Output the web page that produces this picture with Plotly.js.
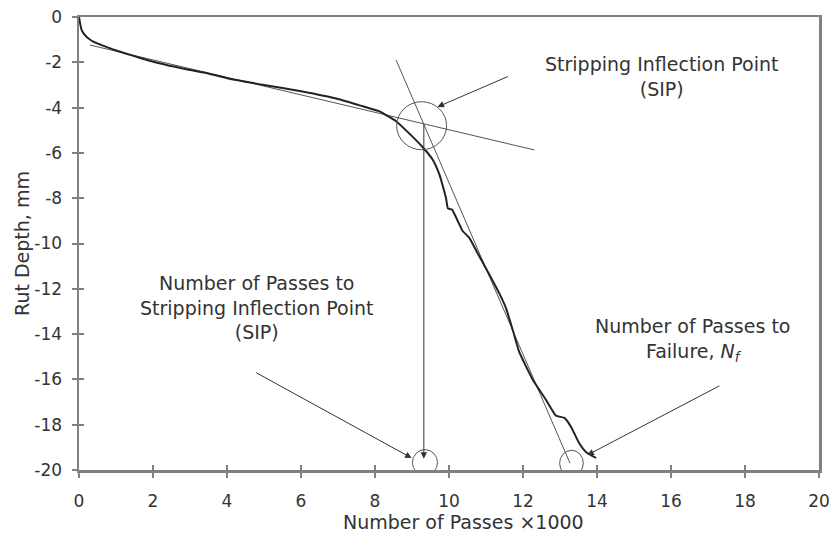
<!DOCTYPE html>
<html>
<head>
<meta charset="utf-8">
<script src="https://cdn.plot.ly/plotly-3.0.1.min.js"></script>
<style>html,body{margin:0;padding:0;background:#fff;}#chart{width:835px;height:539px;}</style>
</head>
<body>
<div id="chart"></div>
<script>
// Main rut depth curve (Number of passes x1000, rut depth mm)
var passes = [0, 0.03, 0.07, 0.15, 0.25, 0.4, 0.61, 0.9, 1.24, 1.7, 2.14, 2.8, 3.49, 4.0, 5.0, 6.0, 7.0, 7.58, 8.12, 8.57, 8.93, 9.29, 9.56, 9.74, 9.83, 9.92, 9.97, 10.08, 10.37, 10.55, 10.78, 11.0, 11.36, 11.54, 11.72, 11.9, 12.26, 12.62, 12.89, 13.12, 13.3, 13.52, 13.7, 13.98];
var rut    = [0, -0.28, -0.57, -0.78, -0.94, -1.1, -1.24, -1.42, -1.6, -1.83, -2.03, -2.27, -2.49, -2.7, -3.0, -3.28, -3.62, -3.9, -4.17, -4.6, -5.15, -5.75, -6.3, -6.95, -7.45, -8.0, -8.45, -8.5, -9.45, -9.75, -10.45, -11.1, -12.2, -12.85, -13.8, -14.8, -16.0, -16.9, -17.6, -17.7, -18.1, -18.82, -19.2, -19.47];

// Tangent lines
var tangent1X = [0.3, 12.31];
var tangent1Y = [-1.24, -5.87];
var tangent2X = [8.57, 13.27];
var tangent2Y = [-1.9, -19.7];

// Circles: center x, center y, radius x, radius y
var circleCX = [9.26, 9.35, 13.31];
var circleCY = [-4.80, -19.67, -19.70];
var circleRX = [0.675, 0.34, 0.32];
var circleRY = [1.06, 0.57, 0.57];

// Arrows: head (x,y) and tail (ax,ay)
var arrowX  = [9.69, 8.99, 13.74, 9.32];
var arrowY  = [-3.97, -19.47, -19.34, -19.5];
var arrowAX = [11.63, 4.75, 17.35, 9.32];
var arrowAY = [-2.6, -15.67, -16.25, -4.68];

// Text labels
var labelText = ["Stripping Inflection Point<br>(SIP)", "Number of Passes to<br>Stripping Inflection Point<br>(SIP)", "Number of Passes to<br>Failure, <i>N</i><sub><i>f</i></sub>"];
var labelX = [15.76, 4.80, 16.57];
var labelY = [-2.63, -12.83, -14.26];

var xTitle = 'Number of Passes ×1000';
var yTitle = 'Rut Depth, mm';

var xTicks = [0, 2, 4, 6, 8, 10, 12, 14, 16, 18, 20];
var xTickText = ['0', '2', '4', '6', '8', '10', '12', '14', '16', '18', '20'];
var yTicks = [0, -2, -4, -6, -8, -10, -12, -14, -16, -18, -20];
var yTickText = ['0', '-2', '-4', '-6', '-8', '-10', '-12', '-14', '-16', '-18', '-20'];

var textColor = '#333';
var axisColor = '#808080';
var fontFam = 'DejaVu Sans, Arial, sans-serif';

var traces = [
  {x: tangent1X, y: tangent1Y, mode: 'lines', line: {color: '#555', width: 1}, hoverinfo: 'skip'},
  {x: tangent2X, y: tangent2Y, mode: 'lines', line: {color: '#555', width: 1}, hoverinfo: 'skip'},
  {x: passes, y: rut, mode: 'lines', line: {color: '#222', width: 2, shape: 'spline', smoothing: 0.4}, hoverinfo: 'skip'},
  {x: [null], y: [null], xaxis: 'x2', yaxis: 'y2', mode: 'lines', hoverinfo: 'skip'}
];

var shapes = [];
for (var i = 0; i < circleCX.length; i++) {
  shapes.push({type: 'circle', xref: 'x', yref: 'y',
    x0: circleCX[i] - circleRX[i], x1: circleCX[i] + circleRX[i],
    y0: circleCY[i] - circleRY[i], y1: circleCY[i] + circleRY[i],
    line: {color: '#555', width: 1}});
}

var annotations = [];
for (var j = 0; j < arrowX.length; j++) {
  annotations.push({x: arrowX[j], y: arrowY[j], ax: arrowAX[j], ay: arrowAY[j],
    xref: 'x', yref: 'y', axref: 'x', ayref: 'y', text: '', showarrow: true,
    arrowhead: 2, arrowsize: 1.3, arrowwidth: 1, arrowcolor: '#333'});
}
for (var k = 0; k < labelText.length; k++) {
  annotations.push({x: labelX[k], y: labelY[k], xref: 'x', yref: 'y', text: labelText[k],
    showarrow: false, align: 'center', font: {family: fontFam, size: 19, color: textColor}});
}
// x-axis title placed slightly right of centre, as in the reference
annotations.push({x: 0.52, y: -0.115, xref: 'paper', yref: 'paper', text: xTitle, showarrow: false,
  xanchor: 'center', yanchor: 'middle', font: {family: fontFam, size: 19, color: textColor}});

var layout = {
  width: 835, height: 539,
  margin: {l: 79, r: 16, t: 17, b: 69},
  paper_bgcolor: '#fff', plot_bgcolor: '#fff',
  showlegend: false,
  font: {family: fontFam, color: textColor},
  xaxis: {range: [0, 20], tickvals: xTicks, ticktext: xTickText, ticks: 'outside', ticklen: 5, tickcolor: axisColor, tickwidth: 2,
    showline: true, linecolor: axisColor, linewidth: 2.5, mirror: true, showgrid: false, zeroline: false,
    tickfont: {size: 17, color: textColor}, ticklabelstandoff: 9, automargin: false},
  yaxis: {range: [-20, 0], tickvals: yTicks, ticktext: yTickText, ticks: 'outside', ticklen: 5, tickcolor: axisColor, tickwidth: 2,
    showline: true, linecolor: axisColor, linewidth: 2.5, mirror: true, showgrid: false, zeroline: false,
    tickfont: {size: 17, color: textColor}, ticklabelstandoff: 6,
    title: {text: yTitle, font: {size: 19, color: textColor}, standoff: 0}, automargin: false},
  xaxis2: {overlaying: 'x', anchor: 'y', side: 'bottom', range: [0, 20], tickvals: xTicks, ticks: 'inside', ticklen: 5,
    tickcolor: axisColor, tickwidth: 2, showticklabels: false, showline: false, showgrid: false, zeroline: false},
  yaxis2: {overlaying: 'y', anchor: 'x', side: 'left', range: [-20, 0], tickvals: yTicks, ticks: 'inside', ticklen: 5,
    tickcolor: axisColor, tickwidth: 2, showticklabels: false, showline: false, showgrid: false, zeroline: false},
  shapes: shapes,
  annotations: annotations
};

Plotly.newPlot('chart', traces, layout, {displayModeBar: false, staticPlot: true});
</script>
</body>
</html>
